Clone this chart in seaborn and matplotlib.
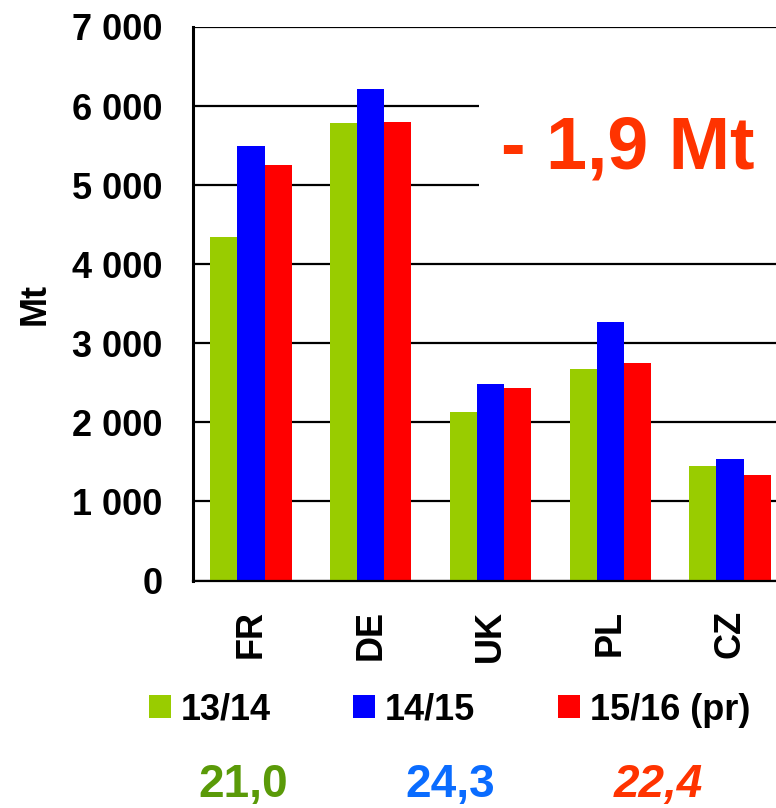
import numpy as np
import pandas as pd
import matplotlib
matplotlib.use("Agg")
import matplotlib.pyplot as plt
from matplotlib.ticker import FuncFormatter, MultipleLocator
import seaborn as sns

countries = ["FR", "DE", "UK", "PL", "CZ"]
seasons = ["13/14", "14/15", "15/16 (pr)"]
v_1314 = [4350, 5780, 2130, 2680, 1445]
v_1415 = [5490, 6220, 2490, 3275, 1535]
v_1516 = [5260, 5800, 2440, 2745, 1333]
totals = ["21,0", "24,3", "22,4"]
total_colors = ["#5a9a08", "#0a6cff", "#ff3300"]
bar_colors = ["#99cc00", "#0000ff", "#ff0000"]
change_label = "- 1,9 Mt"

df = pd.DataFrame({
    "country": countries * 3,
    "season": [seasons[0]] * 5 + [seasons[1]] * 5 + [seasons[2]] * 5,
    "value": v_1314 + v_1415 + v_1516,
})

sns.set_theme(style="white")
plt.rcParams["font.family"] = ["Liberation Sans", "DejaVu Sans"]
plt.rcParams["font.weight"] = "bold"
for k in ["text.color", "axes.labelcolor", "xtick.color", "ytick.color"]:
    plt.rcParams[k] = "black"

W, H = 776, 808
fig = plt.figure(figsize=(W / 100, H / 100), dpi=100)
ax = fig.add_axes([193 / W, (H - 580.5) / H, 583 / W, 553.5 / H])

sns.barplot(data=df, x="country", y="value", hue="season", order=countries,
            hue_order=seasons, palette=bar_colors, width=0.68, gap=0,
            saturation=1, ax=ax, legend=True, edgecolor="none", linewidth=0)

ax.set_xlim(-0.484, 4.384)
ax.set_ylim(0, 7000)
ax.yaxis.set_major_locator(MultipleLocator(1000))
ax.yaxis.set_major_formatter(FuncFormatter(lambda v, p: f"{int(v):,}".replace(",", " ")))
ax.grid(axis="y", color="black", linewidth=1.6)
ax.set_axisbelow(True)
for s in ["top", "right"]:
    ax.spines[s].set_visible(False)
ax.spines["left"].set_linewidth(2.2)
ax.spines["left"].set_color("black")
ax.spines["bottom"].set_linewidth(1.6)
ax.spines["bottom"].set_color("black")

ax.tick_params(axis="y", length=0, pad=22, labelsize=26, labelcolor="black")
ax.tick_params(axis="x", length=0, pad=21, labelsize=26, labelrotation=90, labelcolor="black")
for t in ax.get_yticklabels() + ax.get_xticklabels():
    t.set_fontweight("bold")
ax.set_xlabel("")
ax.set_ylabel("Mt", fontsize=26, fontweight="bold", color="black")
ax.yaxis.set_label_coords(-0.271, 0.5)
ax.yaxis.label.set_va("center")

handles, labels = ax.get_legend_handles_labels()
ax.legend_.remove()
leg = fig.legend(handles, labels, loc="center left",
                 bbox_to_anchor=(148.5 / W, 1 - 710 / H), bbox_transform=fig.transFigure,
                 ncol=3, frameon=False, prop={"weight": "bold", "size": 26},
                 handlelength=0.61, handleheight=0.61, handletextpad=0.28,
                 columnspacing=2.28, borderpad=0, borderaxespad=0)
for t in leg.get_texts():
    t.set_color("black")

fig.text(628 / W, 1 - 149 / H, change_label, color="#ff3300", fontsize=53,
         fontweight="bold", ha="center", va="center",
         bbox=dict(boxstyle="square,pad=0.3", fc="white", ec="none"))

xs = [243, 450, 658]
for x, t, c, st in zip(xs, totals, total_colors, ["normal", "normal", "italic"]):
    fig.text(x / W, 11 / H, t, color=c, fontsize=33, fontweight="bold",
             fontstyle=st, ha="center", va="baseline")

fig.savefig("out.png", dpi=100)
